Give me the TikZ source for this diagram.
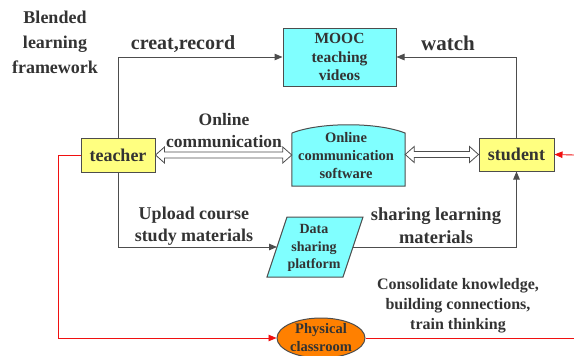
\documentclass[tikz,border=0pt]{standalone}
\usepackage{fontspec}
\setmainfont{Liberation Serif}
\usetikzlibrary{arrows.meta,shapes.geometric,calc}
\definecolor{txt}{HTML}{333333}
\definecolor{edge}{HTML}{4D4D4D}
\definecolor{cyanfill}{HTML}{80FFFF}
\definecolor{yelfill}{HTML}{FFFF80}
\definecolor{orfill}{HTML}{FF8000}
\definecolor{redline}{HTML}{F01010}
\tikzset{
  box/.style={draw=edge, line width=1pt, inner sep=0pt, align=center, text=txt, font=\bfseries},
  lbl/.style={text=txt, align=center, inner sep=0pt},
  conn/.style={draw=edge, line width=1pt, -{Triangle[length=8pt,width=6.5pt]}},
  redc/.style={draw=redline, line width=0.9pt, -{Triangle[length=8pt,width=6.5pt]}},
  redl/.style={draw=redline, line width=0.9pt},
  hollow/.style={draw=edge, line width=0.8pt, fill=white, line join=miter}
}
\begin{document}
\begin{tikzpicture}[x=1pt,y=-1pt]
\useasboundingbox (0,0) rectangle (574,356);

% nodes
\node[box, fill=yelfill, minimum width=74pt, minimum height=34pt, font=\bfseries\fontsize{18}{20}\selectfont] (teacher) at (118,155) {teacher};
\node[box, fill=yelfill, minimum width=75pt, minimum height=33pt, font=\bfseries\fontsize{18}{20}\selectfont] (student) at (516.5,154.5) {student};
\node[box, fill=cyanfill, minimum width=113pt, minimum height=58pt, font=\bfseries\fontsize{15.5}{18.5}\selectfont] (mooc) at (339.5,57) {MOOC\\teaching\\videos};

% online communication software (arched top)
\node[inner sep=0pt, minimum width=113pt, minimum height=53pt] (soft) at (348.5,159.5) {};
\draw[draw=edge, line width=1pt, fill=cyanfill] (soft.south west) -- (292,133) .. controls (320,122) and (377,122) .. (405,133) -- (soft.south east) -- cycle;
\node[lbl, font=\bfseries\fontsize{14.5}{18}\selectfont] (softtxt) at (346,156) {Online\\communication\\software};

% data sharing platform (parallelogram)
\node[inner sep=0pt, minimum width=66pt, minimum height=60pt] (data) at (315,247) {};
\draw[draw=edge, line width=1pt, fill=cyanfill] (287,217) -- (363,217) -- (343,277) -- (267,277) -- cycle;
\node[lbl, font=\bfseries\fontsize{14}{17.5}\selectfont] (datatxt) at (314,248) {Data\\sharing\\platform};

% physical classroom
\node[box, ellipse, fill=orfill, minimum width=88pt, minimum height=40pt, font=\bfseries\fontsize{14.5}{18}\selectfont] (cls) at (321,338) {Physical\\classroom};

% labels
\node[lbl, font=\bfseries\fontsize{18}{25}\selectfont] (blend) at (55,42) {Blended\\learning\\framework};
\node[lbl, font=\bfseries\fontsize{20}{22}\selectfont] (creat) at (183,44) {creat,record};
\node[lbl, font=\bfseries\fontsize{21}{22}\selectfont] (watch) at (448,43) {watch};
\node[lbl, font=\bfseries\fontsize{17.5}{22}\selectfont] (online) at (224,131) {Online\\communication};
\node[lbl, font=\bfseries\fontsize{18}{22.5}\selectfont] (upload) at (194,226) {Upload course\\study materials};
\node[lbl, font=\bfseries\fontsize{18.5}{23}\selectfont] (sharing) at (436,226) {sharing learning\\materials};
\node[lbl, font=\bfseries\fontsize{16}{20}\selectfont] (consol) at (458,306) {Consolidate knowledge,\\building connections,\\train thinking};

% coordinates
\coordinate (dataL) at (277,247);
\coordinate (dataR) at (353,247);
\coordinate (redin) at (574,155);
\coordinate (redout) at (574,338);
\coordinate (redcorner) at (58,155);

% connectors
\draw[conn] (teacher.north) |- (mooc.west);
\draw[conn] (student.north) |- (mooc.east);
\draw[conn] (teacher.south) |- (dataL);
\draw[conn] (dataR) -| (student.south);

% hollow double arrows
\draw[hollow] let \p1=(teacher.east), \p2=(soft.west |- teacher.east) in
  (\p1) -- (\x1+9pt,\y1+8pt) -- (\x1+9pt,\y1+3pt) -- (\x2-9pt,\y1+3pt) -- (\x2-9pt,\y1+8pt) -- (\x2,\y1)
  -- (\x2-9pt,\y1-8pt) -- (\x2-9pt,\y1-3pt) -- (\x1+9pt,\y1-3pt) -- (\x1+9pt,\y1-8pt) -- cycle;
\draw[hollow] let \p1=(soft.east |- student.west), \p2=(student.west) in
  (\p1) -- (\x1+9pt,\y1+8pt) -- (\x1+9pt,\y1+3pt) -- (\x2-9pt,\y1+3pt) -- (\x2-9pt,\y1+8pt) -- (\x2,\y1)
  -- (\x2-9pt,\y1-8pt) -- (\x2-9pt,\y1-3pt) -- (\x1+9pt,\y1-3pt) -- (\x1+9pt,\y1-8pt) -- cycle;

% red
\draw[redc] (teacher.west) -- (redcorner) |- (cls.west);
\draw[redl] (cls.east) -- (redout);
\draw[redc] (redin) -- (student.east);
\end{tikzpicture}
\end{document}
